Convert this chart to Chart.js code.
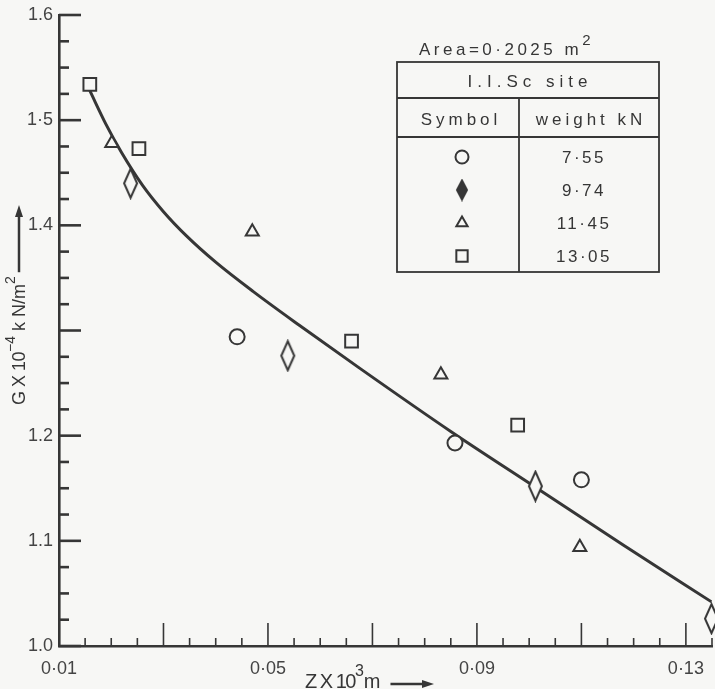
<!DOCTYPE html>
<html>
<head>
<meta charset="utf-8">
<script src="https://cdn.jsdelivr.net/npm/chart.js@4.4.1/dist/chart.umd.min.js"></script>
<style>
  html, body { margin: 0; padding: 0; background: #f7f7f5; }
  #wrap { position: relative; width: 715px; height: 689px; }
</style>
</head>
<body>
<div id="wrap"><canvas id="shearChart"></canvas></div>
<script>
// values: Z x 10^3 m (x) against G x 10^-4 kN/m^2 (y)
const circleZ = [0.0441, 0.0858, 0.1100];
const circleG = [1.294, 1.193, 1.158];

const diamondZ = [0.0237, 0.0538, 0.1012, 0.1349];
const diamondG = [1.440, 1.276, 1.152, 1.026];

const triangleZ = [0.0201, 0.0470, 0.0831, 0.1097];
const triangleG = [1.478, 1.394, 1.258, 1.094];

const squareZ = [0.0159, 0.0253, 0.0660, 0.0978];
const squareG = [1.534, 1.473, 1.290, 1.210];

// fitted curve
const curveZ = [0.0159, 0.0190, 0.0220, 0.0260, 0.0300, 0.0344, 0.0400, 0.0472, 0.0560, 0.0676, 0.0850, 0.1012, 0.1180, 0.1349];
const curveG = [1.528, 1.496, 1.469, 1.438, 1.413, 1.390, 1.365, 1.337, 1.305, 1.264, 1.204, 1.151, 1.096, 1.042];

const weights = ["7·55", "9·74", "11·45", "13·05"];

const xTickValues = [0.01, 0.05, 0.09, 0.13];
const xTickLabels = ["0·01", "0·05", "0·09", "0·13"];
const yTickValues = [1.0, 1.1, 1.2, 1.4, 1.5, 1.6];
const yTickLabels = ["1.0", "1.1", "1.2", "1.4", "1·5", "1.6"];

const INK = "#363636";
const PAPER = "#f7f7f5";
const FONT = "'Liberation Sans', Arial, sans-serif";

function points(xs, ys) {
    return xs.map((x, i) => ({ x: x, y: ys[i] }));
}

// tall narrow diamond, the library has only the square one
function diamondMark(w, h, filled) {
    const c = document.createElement("canvas");
    c.width = w + 4;
    c.height = h + 4;
    const g = c.getContext("2d");
    g.beginPath();
    g.moveTo(c.width / 2, 2);
    g.lineTo(c.width - 2, c.height / 2);
    g.lineTo(c.width / 2, c.height - 2);
    g.lineTo(2, c.height / 2);
    g.closePath();
    g.fillStyle = filled ? INK : PAPER;
    g.fill();
    g.lineWidth = 2;
    g.strokeStyle = INK;
    g.stroke();
    return c;
}

const plotDiamond = diamondMark(13, 29, false);
const tableDiamond = diamondMark(10, 19, true);

function labelFor(values, labels, v) {
    const i = values.findIndex(t => Math.abs(t - v) < 1e-6);
    return i >= 0 ? labels[i] : "";
}

// text pieces one after another, with raised superscripts
function drawRun(ctx, parts, x, y) {
    let cx = x;
    parts.forEach(p => {
        ctx.font = p.font;
        ctx.letterSpacing = p.spacing || "0px";
        ctx.fillText(p.text, cx, y + (p.dy || 0));
        cx += ctx.measureText(p.text).width;
    });
    ctx.letterSpacing = "0px";
    return cx;
}

function drawArrow(ctx, x1, x2, y) {
    ctx.lineWidth = 2.5;
    ctx.beginPath();
    ctx.moveTo(x1, y);
    ctx.lineTo(x2 - 8, y);
    ctx.stroke();
    ctx.beginPath();
    ctx.moveTo(x2, y);
    ctx.lineTo(x2 - 12, y - 4);
    ctx.lineTo(x2 - 12, y + 4);
    ctx.closePath();
    ctx.fill();
}

const tickMarks = {
    id: "tickMarks",
    afterDatasetsDraw(chart) {
        const { ctx, scales: { x, y } } = chart;
        ctx.save();
        ctx.strokeStyle = INK;
        ctx.lineWidth = 1.6;
        x.ticks.forEach((t, i) => {
            const px = x.getPixelForValue(t.value);
            const len = i % 4 === 0 ? 23 : 8;
            ctx.beginPath();
            ctx.moveTo(px, x.top);
            ctx.lineTo(px, x.top - len);
            ctx.stroke();
        });
        ctx.lineWidth = 2.6;
        y.ticks.forEach((t, i) => {
            const py = y.getPixelForValue(t.value);
            const len = i % 4 === 0 ? 22 : 10;
            ctx.beginPath();
            ctx.moveTo(y.right, py);
            ctx.lineTo(y.right + len, py);
            ctx.stroke();
        });
        ctx.restore();
    }
};

const axisTitles = {
    id: "axisTitles",
    afterDraw(chart) {
        const ctx = chart.ctx;
        ctx.save();
        ctx.fillStyle = INK;
        ctx.strokeStyle = INK;
        ctx.textBaseline = "alphabetic";
        ctx.textAlign = "left";

        // x title sits between the 0.05 and 0.09 labels
        let end = drawRun(ctx, [
            { text: "Z X 10", font: "20px " + FONT, spacing: "-1.5px" },
            { text: "3", font: "16px " + FONT, dy: -12 },
            { text: "m", font: "20px " + FONT }
        ], 305, 688);
        drawArrow(ctx, end + 10, 434, 684);

        // y title, reading upwards
        ctx.save();
        ctx.translate(25, 405);
        ctx.rotate(-Math.PI / 2);
        end = drawRun(ctx, [
            { text: "G X 10", font: "18px " + FONT, spacing: "-0.5px" },
            { text: "−4", font: "14px " + FONT, dy: -10 },
            { text: " k N/m", font: "18px " + FONT },
            { text: "2", font: "14px " + FONT, dy: -10 }
        ], 0, 0);
        drawArrow(ctx, end + 4, 200, -6);
        ctx.restore();
        ctx.restore();
    }
};

const weightTable = {
    id: "weightTable",
    afterDraw(chart) {
        const ctx = chart.ctx;
        const box = { left: 397, right: 659, top: 62, site: 98, head: 137, bottom: 272, split: 519 };
        const symX = (box.left + box.split) / 2 + 4;
        const valX = (box.split + box.right) / 2;
        ctx.save();
        ctx.fillStyle = INK;
        ctx.strokeStyle = INK;

        ctx.textAlign = "left";
        ctx.textBaseline = "alphabetic";
        drawRun(ctx, [
            { text: "Area=0·2025 m", font: "17px " + FONT, spacing: "3.5px" },
            { text: "2", font: "15px " + FONT, dy: -10 }
        ], 419, 55);

        ctx.lineWidth = 1.8;
        ctx.strokeRect(box.left, box.top, box.right - box.left, box.bottom - box.top);
        ctx.beginPath();
        ctx.moveTo(box.left, box.site);
        ctx.lineTo(box.right, box.site);
        ctx.moveTo(box.left, box.head);
        ctx.lineTo(box.right, box.head);
        ctx.moveTo(box.split, box.site);
        ctx.lineTo(box.split, box.bottom);
        ctx.stroke();

        ctx.textAlign = "center";
        ctx.textBaseline = "middle";
        ctx.font = "17px " + FONT;
        ctx.letterSpacing = "5px";
        ctx.fillText("I.I.Sc site", (box.left + box.right) / 2 + 2, 82);
        ctx.letterSpacing = "4px";
        ctx.fillText("Symbol", (box.left + box.split) / 2 + 3, 120);
        ctx.fillText("weight kN", valX + 2, 120);

        ctx.letterSpacing = "2.5px";
        const marks = chart.data.datasets.filter(d => d.weight);
        marks.forEach((d, i) => {
            const cy = 157 + i * 33;
            ctx.fillStyle = INK;
            ctx.fillText(d.weight, valX - 5, cy + 1);
            const style = d.pointStyle === plotDiamond ? tableDiamond : d.pointStyle;
            ctx.fillStyle = PAPER;
            ctx.lineWidth = 2;
            Chart.helpers.drawPoint(ctx, {
                pointStyle: style,
                radius: d.pointStyle === "rect" ? 8 : 6.5,
                borderWidth: 2,
                rotation: 0
            }, symX, cy);
        });
        ctx.restore();
    }
};

const markerBase = {
    showLine: false,
    borderColor: INK,
    backgroundColor: PAPER,
    pointBorderWidth: 2,
    clip: false,
    order: 0
};

new Chart(document.getElementById("shearChart"), {
    type: "scatter",
    data: {
        datasets: [
            { ...markerBase, label: "circle", weight: weights[0], data: points(circleZ, circleG), pointStyle: "circle", pointRadius: 7.5 },
            { ...markerBase, label: "diamond", weight: weights[1], data: points(diamondZ, diamondG), pointStyle: plotDiamond, pointRadius: 8 },
            { ...markerBase, label: "triangle", weight: weights[2], data: points(triangleZ, triangleG), pointStyle: "triangle", pointRadius: 7.5 },
            { ...markerBase, label: "square", weight: weights[3], data: points(squareZ, squareG), pointStyle: "rect", pointRadius: 9 },
            {
                label: "curve",
                data: points(curveZ, curveG),
                showLine: true,
                borderColor: INK,
                borderWidth: 3,
                pointRadius: 0,
                cubicInterpolationMode: "monotone",
                order: 1
            }
        ]
    },
    options: {
        responsive: true,
        maintainAspectRatio: false,
        animation: false,
        events: [],
        layout: {
            autoPadding: false,
            padding: { top: 15, right: 3, bottom: 0, left: 0 }
        },
        plugins: {
            legend: { display: false },
            tooltip: { enabled: false }
        },
        scales: {
            x: {
                type: "linear",
                min: 0.01,
                max: 0.135,
                afterFit(scale) {
                    scale.height = 43;
                    // no extra room for the label padding at the ends
                    scale.paddingLeft = 0;
                    scale.paddingRight = 0;
                },
                afterBuildTicks(scale) {
                    const ticks = [];
                    for (let i = 0; i <= 25; i++) {
                        ticks.push({ value: Number((0.01 + i * 0.005).toFixed(4)) });
                    }
                    scale.ticks = ticks;
                },
                grid: { display: false, drawTicks: false },
                border: { color: INK, width: 2.6 },
                ticks: {
                    autoSkip: false,
                    maxRotation: 0,
                    padding: 12,
                    color: "#444",
                    font: { family: FONT, size: 18 },
                    callback: v => labelFor(xTickValues, xTickLabels, v)
                }
            },
            y: {
                type: "linear",
                min: 1.0,
                max: 1.6,
                afterFit(scale) {
                    scale.width = 59;
                    scale.paddingTop = 0;
                    scale.paddingBottom = 0;
                },
                afterBuildTicks(scale) {
                    const ticks = [];
                    for (let i = 0; i <= 24; i++) {
                        ticks.push({ value: Number((1 + i * 0.025).toFixed(4)) });
                    }
                    scale.ticks = ticks;
                },
                grid: { display: false, drawTicks: false },
                border: { color: INK, width: 2.6 },
                ticks: {
                    autoSkip: false,
                    padding: 6,
                    color: "#444",
                    font: { family: FONT, size: 18 },
                    callback: v => labelFor(yTickValues, yTickLabels, v)
                }
            }
        }
    },
    plugins: [tickMarks, axisTitles, weightTable]
});
</script>
</body>
</html>
